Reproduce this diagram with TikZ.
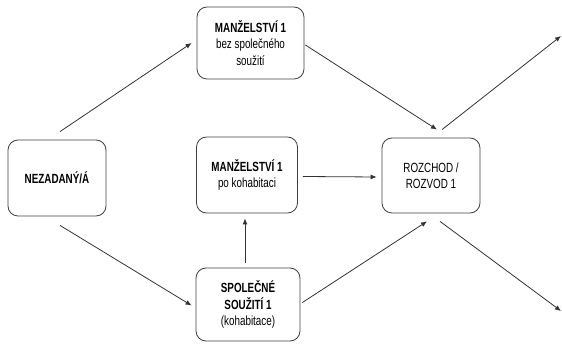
\documentclass[tikz,border=0pt]{standalone}
\usepackage{fontspec}
\setmainfont[FakeStretch=0.74]{Liberation Sans}
\usetikzlibrary{arrows.meta}
\begin{document}
\begin{tikzpicture}[x=1pt,y=-1pt,
  box/.style={draw=black!75, line width=0.8pt, rounded corners=10pt, align=center,
    font=\fontsize{13.3}{16.5}\selectfont, inner sep=0pt},
  arr/.style={-{Latex[length=6pt,width=5pt]}, line width=0.8pt, draw=black!80}]
\useasboundingbox (0,0) rectangle (562,344);
\node[box, minimum width=98pt, minimum height=76pt] (nez) at (57,178) {\textbf{NEZADANÝ/Á}};
\node[box, minimum width=107pt, minimum height=72pt] (mb) at (250.5,43) {\textbf{MANŽELSTVÍ 1}\\bez společného\\soužití};
\node[box, minimum width=101pt, minimum height=76pt] (mp) at (247,175) {\textbf{MANŽELSTVÍ 1}\\po kohabitaci};
\node[box, minimum width=104pt, minimum height=73pt] (sp) at (248,304.5) {\textbf{SPOLEČNÉ}\\\textbf{SOUŽITÍ 1}\\(kohabitace)};
\node[box, minimum width=98pt, minimum height=75pt] (rz) at (431,175.5) {ROZCHOD /\\ROZVOD 1};
\coordinate (up) at (561,36);
\coordinate (dn) at (561,311);
\draw[arr] ([shift={(3,-8)}]nez.north) -- ([shift={(-5,0)}]mb.west);
\draw[arr] ([shift={(3,9)}]nez.south) -- ([shift={(-4,1)}]sp.west);
\draw[arr] ([shift={(1,2)}]mb.east) -- ([shift={(6,-8)}]rz.north);
\draw[arr] ([shift={(5,1.5)}]mp.east) -- ([shift={(-5,1.5)}]rz.west);
\draw[arr] ([shift={(-3,-5)}]sp.north) -- ([shift={(-2,5)}]mp.south);
\draw[arr] ([shift={(2,-2)}]sp.east) -- ([shift={(-4,8)}]rz.south);
\draw[arr] ([shift={(11,-8)}]rz.north) -- (up);
\draw[arr] ([shift={(9,8)}]rz.south) -- (dn);
\end{tikzpicture}
\end{document}
